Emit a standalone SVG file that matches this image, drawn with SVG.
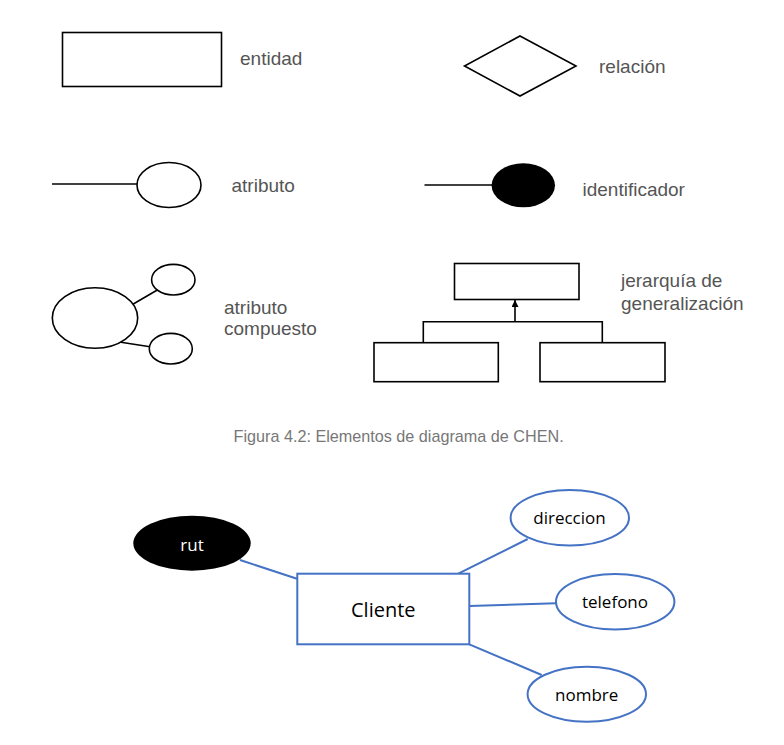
<svg xmlns="http://www.w3.org/2000/svg" width="784" height="745" viewBox="0 0 784 745">
<style>
.k{fill:#fff;stroke:#000;stroke-width:1.6}
.kl{stroke:#000;stroke-width:1.6;fill:none}
.lbl{font-family:"Liberation Sans",Arial,sans-serif;font-size:19px;fill:#555}
.cap{font-family:"Liberation Sans",Arial,sans-serif;font-size:16.2px;fill:#777}
.b{fill:#fff;stroke:#4472C4;stroke-width:2}
.bl{stroke:#4472C4;stroke-width:2;fill:none}
.t{font-family:"Open Sans","Noto Sans",sans-serif;font-size:17px;fill:#000;text-anchor:middle}
</style>
<defs>
<marker id="ah" viewBox="0 0 10 10" refX="10" refY="5" markerWidth="7" markerHeight="7" markerUnits="userSpaceOnUse" orient="auto">
<path d="M0,0 L10,5 L0,10 z" fill="#000"/>
</marker>
</defs>

<g id="legend-entidad">
<rect class="k" x="62.5" y="32.5" width="159" height="54"/>
<text class="lbl" x="240" y="65">entidad</text>
</g>
<g id="legend-relacion">
<polygon class="k" points="520,36 576,66 520,96 464.5,66"/>
<text class="lbl" x="599" y="73">relación</text>
</g>
<g id="legend-atributo">
<line class="kl" x1="52" y1="184" x2="137" y2="184"/>
<ellipse class="k" cx="169" cy="185" rx="32" ry="22.5"/>
<text class="lbl" x="231.5" y="192">atributo</text>
</g>
<g id="legend-identificador">
<line class="kl" x1="424.5" y1="185" x2="492" y2="185"/>
<ellipse cx="523.3" cy="185.3" rx="31.7" ry="22" fill="#000"/>
<text class="lbl" x="582.5" y="196">identificador</text>
</g>
<g id="legend-compuesto">
<line class="kl" x1="133.3" y1="304" x2="157.3" y2="290"/>
<line class="kl" x1="121" y1="342.3" x2="150" y2="346.7"/>
<ellipse class="k" cx="95" cy="318" rx="42.7" ry="30.3"/>
<ellipse class="k" cx="173.3" cy="279.7" rx="21.7" ry="15.3"/>
<ellipse class="k" cx="170.8" cy="348.7" rx="21.5" ry="15.3"/>
<text class="lbl" x="224" y="313.5">atributo</text>
<text class="lbl" x="224" y="335">compuesto</text>
</g>
<g id="legend-jerarquia">
<rect class="k" x="454.5" y="263.5" width="124.5" height="36"/>
<line class="kl" x1="515" y1="321.7" x2="515" y2="300" marker-end="url(#ah)"/>
<polyline class="kl" points="423.3,342.7 423.3,321.7 602.3,321.7 602.3,342.7"/>
<rect class="k" x="374" y="342.7" width="124.3" height="39"/>
<rect class="k" x="540" y="342.7" width="125" height="39"/>
<text class="lbl" x="621" y="287">jerarquía de</text>
<text class="lbl" x="621" y="309.5">generalización</text>
</g>
<text class="cap" x="233.5" y="441.5">Figura 4.2: Elementos de diagrama de CHEN.</text>

<g id="connectors">
<line class="bl" x1="240" y1="560" x2="297" y2="578.7"/>
<line class="bl" x1="527.7" y1="539" x2="458.3" y2="573.7"/>
<line class="bl" x1="469.3" y1="606" x2="556" y2="603.3"/>
<line class="bl" x1="469.3" y1="644.3" x2="541.7" y2="675"/>
</g>
<g id="rut">
<ellipse cx="192" cy="543.2" rx="58.7" ry="27.5" fill="#000"/>
<text class="t" x="192" y="550.5" style="fill:#fff">rut</text>
</g>
<g id="cliente">
<rect class="b" x="297.3" y="573.7" width="172" height="70.6"/>
<text class="t" x="383.3" y="617.3" style="font-size:20px">Cliente</text>
</g>
<g id="direccion">
<ellipse class="b" cx="569.8" cy="517.8" rx="59.2" ry="27.8"/>
<text class="t" x="569.5" y="524.3">direccion</text>
</g>
<g id="telefono">
<ellipse class="b" cx="615.2" cy="601.7" rx="59.2" ry="27.7"/>
<text class="t" x="615" y="608.3">telefono</text>
</g>
<g id="nombre">
<ellipse class="b" cx="586.8" cy="694.2" rx="59.2" ry="27.5"/>
<text class="t" x="586.7" y="700.7">nombre</text>
</g>
</svg>
